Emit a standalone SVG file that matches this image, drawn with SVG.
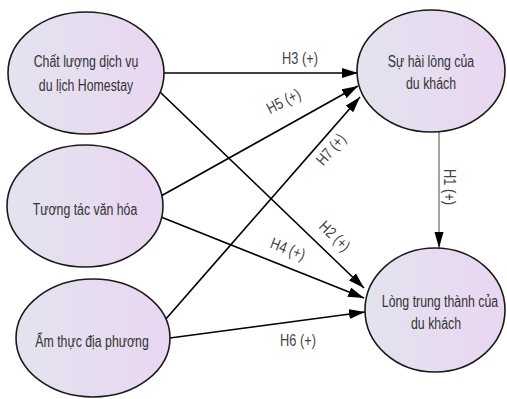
<svg xmlns="http://www.w3.org/2000/svg" width="507" height="399" viewBox="0 0 507 399">
<defs>
<linearGradient id="g" x1="0" y1="0" x2="1" y2="0">
<stop offset="0" stop-color="#e3e3ef"/>
<stop offset="1" stop-color="#ead6f1"/>
</linearGradient>
<marker id="ah" markerUnits="userSpaceOnUse" markerWidth="17" markerHeight="11" refX="16" refY="5" orient="auto">
<path d="M0,0 L16,5 L0,10 z" fill="#000"/>
</marker>
<marker id="ah1" markerUnits="userSpaceOnUse" markerWidth="17" markerHeight="11" refX="16" refY="5" orient="auto">
<path d="M0,0.5 L16,5 L0,9.5 z" fill="#000"/>
</marker>
</defs>
<style>
.node ellipse{fill:url(#g);stroke:#1a1a1a;stroke-width:1.6}
.node text{font-family:"Liberation Sans",Arial,sans-serif;font-size:16px;fill:#333;text-anchor:middle}
.edges line{stroke:#000;stroke-width:1.7;marker-end:url(#ah)}
.edges line.h1{stroke:#555;stroke-width:1.1;marker-end:url(#ah1)}
.lbl{font-family:"Liberation Sans",Arial,sans-serif;font-size:16px;fill:#444;text-anchor:middle}
</style>
<rect width="507" height="399" fill="#fff"/>
<g class="edges" id="connectors">
<line x1="163" y1="73" x2="358" y2="73"/>
<line x1="161" y1="196" x2="358" y2="86"/>
<line x1="165" y1="320" x2="360" y2="97"/>
<line x1="160" y1="92" x2="364" y2="288"/>
<line x1="161" y1="217" x2="364" y2="298"/>
<line x1="170" y1="338" x2="365" y2="312"/>
<line class="h1" x1="439" y1="132" x2="439" y2="248"/>
<text class="lbl" transform="translate(300,64) scale(0.8,1)">H3 (+)</text>
<text class="lbl" transform="translate(286,106) rotate(-27) scale(0.8,1)">H5 (+)</text>
<text class="lbl" transform="translate(335,153) rotate(-49) scale(0.8,1)">H7 (+)</text>
<text class="lbl" transform="translate(331,240) rotate(44) scale(0.8,1)">H2 (+)</text>
<text class="lbl" transform="translate(286,254) rotate(21) scale(0.8,1)">H4 (+)</text>
<text class="lbl" transform="translate(298,346) scale(0.8,1)">H6 (+)</text>
<text class="lbl" transform="translate(444,187) rotate(90) scale(0.8,1)">H1 (+)</text>
</g>
<g class="node" id="n1">
<ellipse cx="86" cy="73" rx="78" ry="61"/>
<text transform="translate(86,67) scale(0.77,1)">Chất lượng dịch vụ</text>
<text transform="translate(86,91) scale(0.77,1)">du lịch Homestay</text>
</g>
<g class="node" id="n2">
<ellipse cx="85" cy="206" rx="78" ry="61"/>
<text transform="translate(85,215) scale(0.77,1)">Tương tác văn hóa</text>
</g>
<g class="node" id="n3">
<ellipse cx="93" cy="338" rx="77" ry="59"/>
<text transform="translate(92,347) scale(0.77,1)">Ẩm thực địa phương</text>
</g>
<g class="node" id="n4">
<ellipse cx="431" cy="71" rx="74" ry="61"/>
<text transform="translate(431,67) scale(0.77,1)">Sự hài lòng của</text>
<text transform="translate(431,89) scale(0.77,1)">du khách</text>
</g>
<g class="node" id="n5">
<ellipse cx="435" cy="310" rx="70" ry="62"/>
<text transform="translate(440,307) scale(0.77,1)">Lòng trung thành của</text>
<text transform="translate(436,329) scale(0.77,1)">du khách</text>
</g>
</svg>
